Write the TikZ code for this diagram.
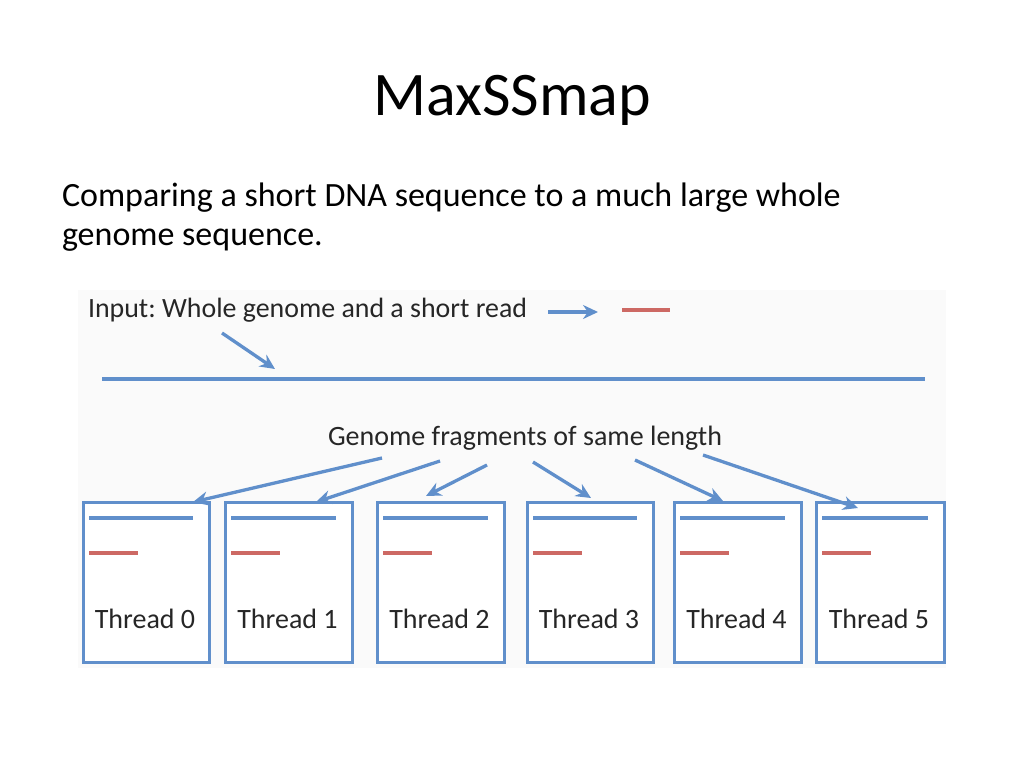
\documentclass[tikz,border=0pt]{standalone}
\usepackage{fontspec}
\setmainfont{Carlito}
\frenchspacing
\usetikzlibrary{arrows.meta}
\definecolor{lblue}{RGB}{96,143,203}
\definecolor{lred}{RGB}{205,105,100}
\definecolor{panel}{RGB}{250,250,250}
\tikzset{
  txt/.style={inner sep=0pt, outer sep=0pt, text=black},
  bline/.style={draw=lblue, line width=4.3pt},
  rline/.style={draw=lred, line width=3.3pt},
  arr/.style={draw=lblue, line width=3.3pt, -{Stealth[length=15pt,width=14pt]}},
  tbox/.style={draw=lblue, line width=3.3pt, fill=white, inner sep=0pt, minimum height=160pt},
  lab/.style={txt, font=\fontsize{28}{32}\selectfont, text=black!85}
}
\begin{document}
\begin{tikzpicture}[x=1pt,y=-1pt]
\useasboundingbox (0,0) rectangle (1024,768);
\fill[white] (0,0) rectangle (1024,768);
\fill[panel] (78,290) rectangle (946,668);

% title and body
\node[txt, anchor=base, font=\fontsize{62}{74}\selectfont] (title) at (512,115) {MaxSSmap};
\node[txt, anchor=base west, font=\fontsize{34}{40}\selectfont] (body1) at (62,206) {Comparing a short DNA sequence to a much large whole};
\node[txt, anchor=base west, font=\fontsize{34}{40}\selectfont] (body2) at (62,245) {genome sequence.};

% input row
\node[lab, anchor=base west, font=\fontsize{27.9}{32}\selectfont] (input) at (88,317) {Input: Whole genome and a short read};
\coordinate (ia1) at (548,312);
\coordinate (ia2) at (598,312);
\draw[arr] (ia1) -- (ia2);
\coordinate (r1) at (622,310);
\coordinate (r2) at (670,310);
\draw[rline] (r1) -- (r2);
\coordinate (ga1) at (222,333);
\coordinate (ga2) at (275,369);
\draw[arr] (ga1) -- (ga2);
\coordinate (g1) at (102,379);
\coordinate (g2) at (925,379);
\draw[bline] (g1) -- (g2);

% fragments label
\node[lab, anchor=base] (frag) at (525,445) {Genome fragments of same length};

% thread boxes
\foreach \i/\l/\r in {0/82/208, 1/224/351, 2/376/503, 3/526/652, 4/673/800, 5/815/943}{
  \node[tbox, minimum width={\r-\l}, anchor=north west] (b\i) at (\l,501) {};
  \coordinate (bl\i a) at (\l+7,518);
  \coordinate (bl\i b) at (\r-15,518);
  \draw[bline] (bl\i a) -- (bl\i b);
  \coordinate (rl\i a) at (\l+7,553);
  \coordinate (rl\i b) at (\l+56,553);
  \draw[rline] (rl\i a) -- (rl\i b);
  \node[lab, anchor=base] (t\i) at ({(\l+\r)/2},628) {Thread \i};
}

% fragment arrows
\coordinate (s0) at (382,458); \coordinate (e0) at (193,502);
\coordinate (s1) at (440,461); \coordinate (e1) at (316,502);
\coordinate (s2) at (487,465); \coordinate (e2) at (426,496);
\coordinate (s3) at (533,462); \coordinate (e3) at (591,498);
\coordinate (s4) at (635,460); \coordinate (e4) at (723,501);
\coordinate (s5) at (703,455); \coordinate (e5) at (858,508);
\foreach \i in {0,...,5}{ \draw[arr] (s\i) -- (e\i); }
\end{tikzpicture}
\end{document}
